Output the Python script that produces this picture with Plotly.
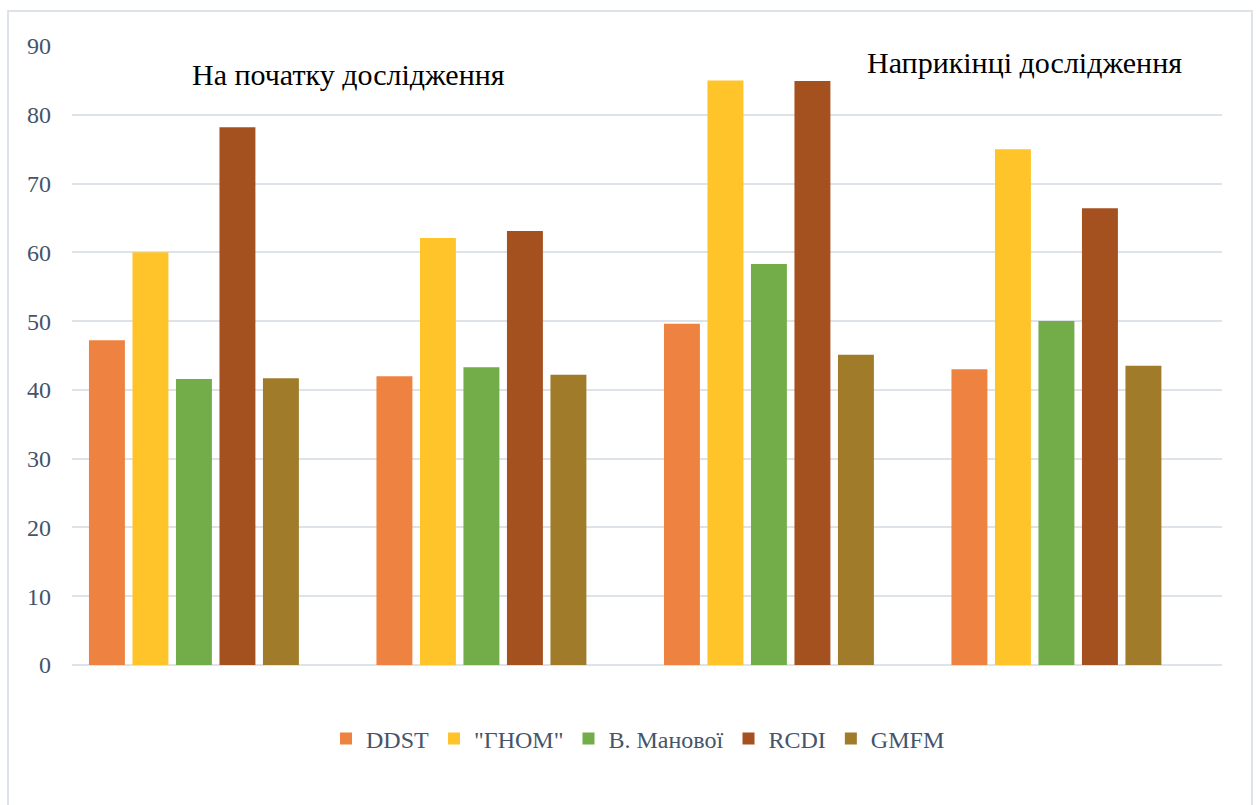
import plotly.graph_objects as go

groups = ["1", "2", "3", "4"]
series_names = ["DDST", "\"ГНОМ\"", "В. Манової", "RCDI", "GMFM"]
ddst = [47.2, 42.0, 49.6, 43.0]
gnom = [60.0, 62.1, 85.0, 75.0]
manovoi = [41.6, 43.3, 58.3, 50.0]
rcdi = [78.2, 63.1, 84.9, 66.4]
gmfm = [41.7, 42.2, 45.1, 43.5]
y_ticks = [0, 10, 20, 30, 40, 50, 60, 70, 80, 90]
title_left = "На початку дослідження"
title_right = "Наприкінці дослідження"

values = [ddst, gnom, manovoi, rcdi, gmfm]
colors = ["#EE8240", "#FFC42A", "#72AD4A", "#A5501F", "#A07B2A"]

W, H = 1256, 805
L, R, T, B = 72, 34, 46, 140
pw, ph = W - L - R, H - T - B

slot = 0.1513
bw = 0.125
start = -0.441

fig = go.Figure()
for i, (name, vals, col) in enumerate(zip(series_names, values, colors)):
    fig.add_trace(go.Bar(
        x=groups, y=vals, name=name,
        marker=dict(color=col, line=dict(width=0)),
        width=bw, offset=start + i * slot,
    ))

serif = "Liberation Serif"
fig.update_layout(
    width=W, height=H,
    margin=dict(l=L, r=R, t=T, b=B),
    paper_bgcolor="white", plot_bgcolor="white",
    showlegend=True,
    legend=dict(orientation="h", x=(638 - L) / pw, xanchor="center",
                y=(H - B - 739) / ph, yanchor="middle",
                font=dict(family=serif, size=24, color="#44546A"),
                itemwidth=30, traceorder="normal"),
    xaxis=dict(showticklabels=False, showgrid=False, zeroline=False,
               showline=False, ticks=""),
    yaxis=dict(range=[0, 90], tickvals=y_ticks, showgrid=True,
               gridcolor="#DEE3EA", gridwidth=2, zeroline=True,
               zerolinecolor="#DEE3EA", zerolinewidth=2, showline=False,
               tickfont=dict(family=serif, size=24, color="#44546A"),
               ticklen=0, ticks="", ticklabelstandoff=20),
    annotations=[
        dict(text=title_left, xref="paper", yref="paper",
             x=(190 - L) / pw, y=(H - B - 74) / ph, xanchor="left", yanchor="middle",
             showarrow=False, font=dict(family=serif, size=30, color="black")),
        dict(text=title_right, xref="paper", yref="paper",
             x=(865 - L) / pw, y=(H - B - 62) / ph, xanchor="left", yanchor="middle",
             showarrow=False, font=dict(family=serif, size=30, color="black")),
    ],
    shapes=[dict(type="rect", xref="paper", yref="paper",
                 x0=(8 - L) / pw, x1=(1252 - L) / pw,
                 y0=(H - B - 808) / ph, y1=(H - B - 11) / ph,
                 line=dict(color="#DEE3EA", width=2), fillcolor="rgba(0,0,0,0)",
                 layer="below")],
)

fig.write_html("out.html")
